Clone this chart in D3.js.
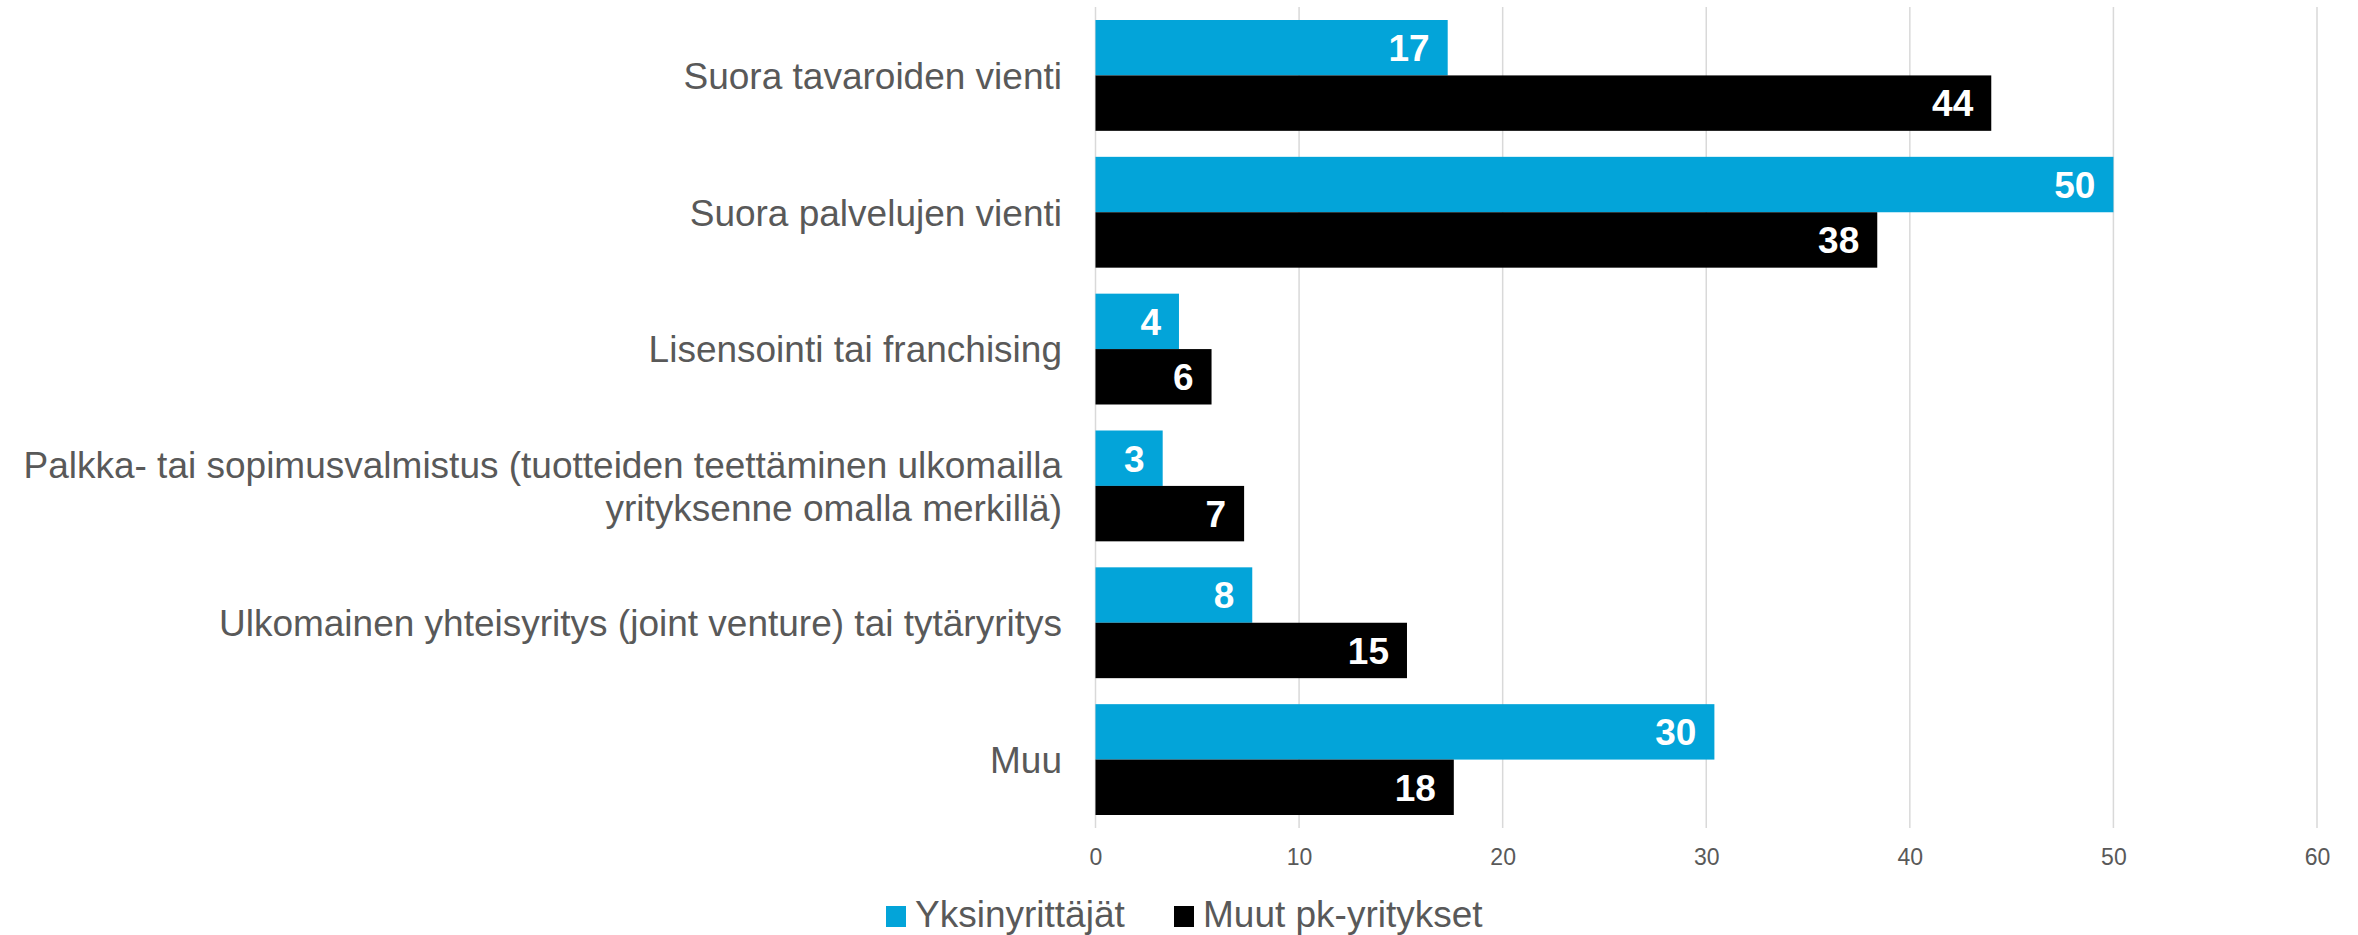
<!DOCTYPE html>
<html>
<head>
<meta charset="utf-8">
<script src="https://cdn.jsdelivr.net/npm/d3@7/dist/d3.min.js"></script>
<style>
  body { margin: 0; background: #fff; }
  text { font-family: "Liberation Sans", Arial, sans-serif; }
  .grid line { stroke: #d9d9d9; stroke-width: 1.5; }
  .xaxis text { fill: #595959; font-size: 23px; }
  .cat { fill: #595959; font-size: 37px; }
  .lbl { fill: #fff; font-size: 37px; font-weight: bold; }
  .legend text { fill: #595959; font-size: 37px; }
</style>
</head>
<body>
<div id="chart"></div>
<script>
// categories (top to bottom), "\n" marks a line break
const categories = [
    "Suora tavaroiden vienti",
    "Suora palvelujen vienti",
    "Lisensointi tai franchising",
    "Palkka- tai sopimusvalmistus (tuotteiden teettäminen ulkomailla\nyrityksenne omalla merkillä)",
    "Ulkomainen yhteisyritys (joint venture) tai tytäryritys",
    "Muu"
];
const seriesNames = ["Yksinyrittäjät", "Muut pk-yritykset"];
const yksinyrittajat = [17.3, 50, 4.1, 3.3, 7.7, 30.4];
const muutPk = [44, 38.4, 5.7, 7.3, 15.3, 17.6];
const xTicks = [0, 10, 20, 30, 40, 50, 60];
const colors = ["#03a4d9", "#000000"];

class BarChart {
    constructor() {
        this.svgWidth = 2358;
        this.svgHeight = 935;
        this.svg = d3.select("#chart").append("svg")
            .attr("width", this.svgWidth)
            .attr("height", this.svgHeight);

        this.x = d3.scaleLinear().domain([0, 60]).range([1095.5, 2317]);
        this.y = d3.scaleBand().domain(categories).range([7, 828])
            .paddingInner(0.19).paddingOuter(0.095);
        this.sub = d3.scaleBand().domain([0, 1]).range([0, this.y.bandwidth()]);
    }

    draw() {
        let x = this.x, y = this.y, sub = this.sub;

        // vertical gridlines
        this.svg.append("g").classed("grid", true)
            .selectAll("line").data(xTicks).enter().append("line")
            .attr("x1", d => x(d)).attr("x2", d => x(d))
            .attr("y1", 7).attr("y2", 828);

        // tick labels
        let xAxis = this.svg.append("g").classed("xaxis", true)
            .attr("transform", "translate(0,857)")
            .call(d3.axisBottom(x).tickValues(xTicks).tickSize(0).tickPadding(0));
        xAxis.select(".domain").remove();
        xAxis.selectAll("text").attr("dy", "0.35em")
            .style("font-family", "Liberation Sans, Arial, sans-serif")
            .style("font-size", "23px").attr("fill", "#595959");

        let rows = categories.map((c, i) => ({cat: c, vals: [yksinyrittajat[i], muutPk[i]]}));

        let groups = this.svg.selectAll(".row").data(rows).enter().append("g")
            .classed("row", true)
            .attr("transform", d => `translate(0,${y(d.cat)})`);

        groups.selectAll("rect").data(d => d.vals).enter().append("rect")
            .attr("x", x(0))
            .attr("y", (d, i) => sub(i))
            .attr("width", d => x(d) - x(0))
            .attr("height", sub.bandwidth())
            .attr("fill", (d, i) => colors[i]);

        groups.selectAll(".lbl").data(d => d.vals).enter().append("text")
            .classed("lbl", true)
            .attr("x", d => x(d) - 18)
            .attr("y", (d, i) => sub(i) + sub.bandwidth() / 2)
            .attr("dy", "0.36em")
            .style("text-anchor", "end")
            .text(d => Math.round(d));

        // category labels
        let cat = groups.append("text").classed("cat", true)
            .style("text-anchor", "end");
        cat.each(function(d) {
            let lines = d.cat.split("\n");
            let lh = 43;
            let t = d3.select(this);
            lines.forEach((ln, k) => {
                t.append("tspan")
                    .attr("x", 1062)
                    .attr("y", y.bandwidth() / 2 + (k - (lines.length - 1) / 2) * lh)
                    .attr("dy", "0.36em")
                    .text(ln);
            });
        });

        // legend
        let legend = this.svg.append("g").classed("legend", true);
        let legX = [886, 1174];
        seriesNames.forEach((s, i) => {
            legend.append("rect")
                .attr("x", legX[i]).attr("y", 906)
                .attr("width", 20).attr("height", 21)
                .attr("fill", colors[i]);
            legend.append("text")
                .attr("x", legX[i] + 29).attr("y", 927)
                .text(s);
        });
    }
}

new BarChart().draw();
</script>
</body>
</html>
